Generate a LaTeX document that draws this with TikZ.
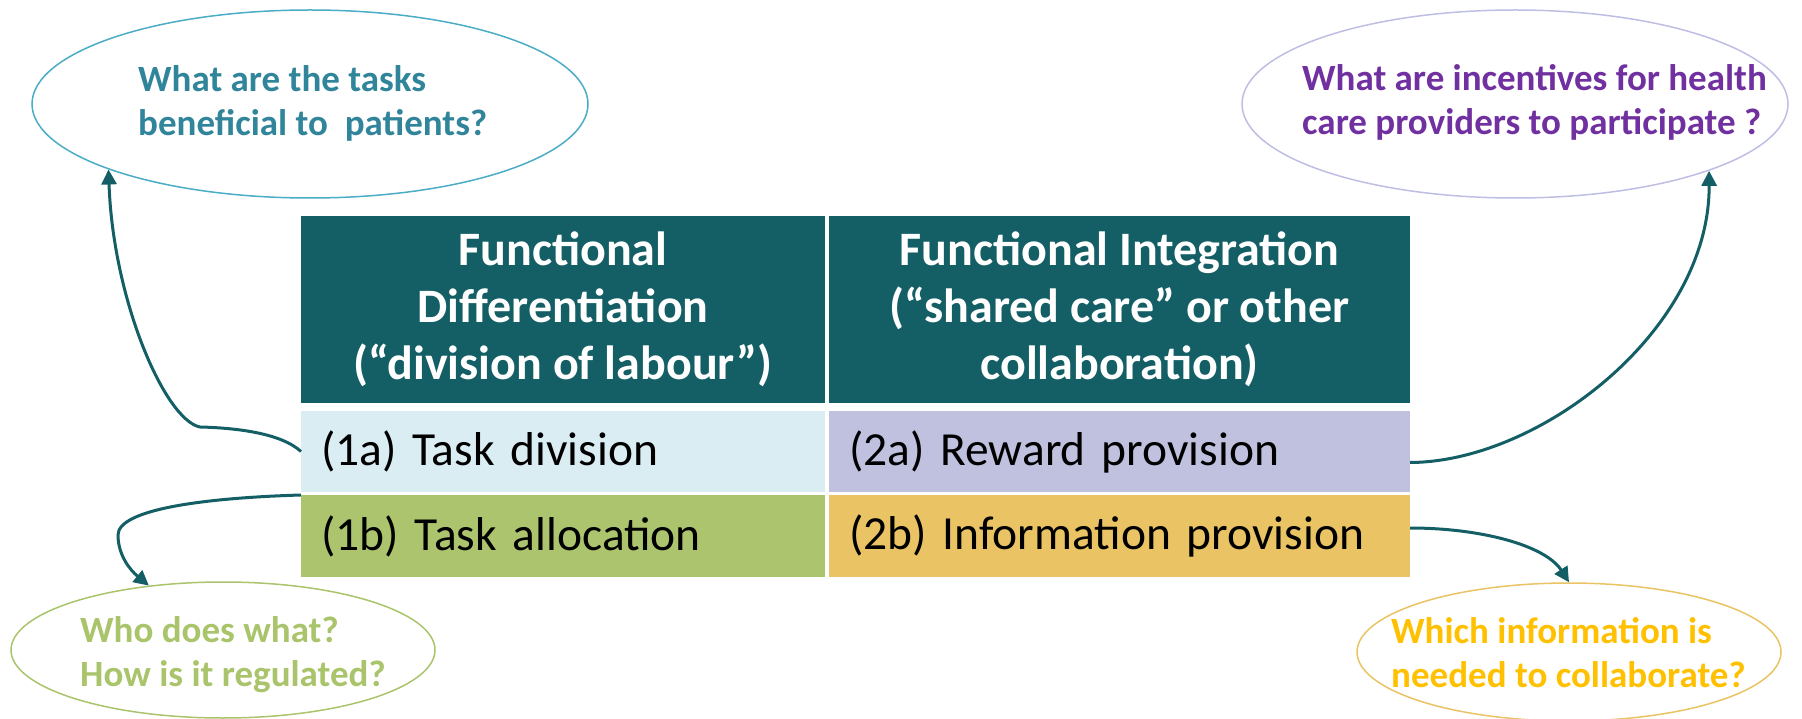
\documentclass[tikz,border=0pt]{standalone}
\usepackage{fontspec}
\setmainfont{Carlito}
\usetikzlibrary{shapes.geometric,arrows.meta,calc}

\definecolor{hdrteal}{RGB}{20,95,102}
\definecolor{cellA}{RGB}{218,237,243}
\definecolor{cellB}{RGB}{172,196,110}
\definecolor{cellC}{RGB}{191,193,223}
\definecolor{cellD}{RGB}{233,195,100}
\definecolor{qoneline}{RGB}{75,172,198}
\definecolor{qonetext}{RGB}{49,133,155}
\definecolor{qtwoline}{RGB}{190,190,228}
\definecolor{qtwotext}{RGB}{112,48,160}
\definecolor{qthreeline}{RGB}{169,196,106}
\definecolor{qthreetext}{RGB}{169,196,106}
\definecolor{qfourline}{RGB}{233,195,100}
\definecolor{qfourtext}{RGB}{255,192,0}

\begin{document}
\begin{tikzpicture}[x=1pt,y=-1pt,
  cell/.style={rectangle, inner sep=0pt, outer sep=0pt, anchor=north west},
  hdr/.style={cell, fill=hdrteal, text=white, align=center,
    font=\fontsize{48}{57}\selectfont\bfseries},
  rowcell/.style={cell, inner xsep=20pt, align=left, text=black,
    font=\fontsize{47.5}{57}\selectfont},
  ell/.style={ellipse, draw, line width=1.5pt, inner sep=0pt},
  qtext/.style={inner sep=0pt, align=left, anchor=west,
    font=\fontsize{37}{44}\selectfont\bfseries},
  conn/.style={draw=hdrteal, line width=3pt,
    -{Triangle[length=15pt,width=15pt]}}
]
\useasboundingbox (0,0) rectangle (1802,719);

% table: header row
\node[hdr, minimum width=524pt, minimum height=187pt] (h1) at (301,216)
  {Functional\\Differentiation\\(“division of labour”)};
\node[hdr, minimum width=581pt, minimum height=187pt] (h2) at (829,216)
  {Functional Integration\\(“shared care” or other\\collaboration)};

% table: body cells
\node[rowcell, fill=cellA, text width=484pt, minimum height=81pt] (c1a) at (301,411) {(1a) Task division};
\node[rowcell, fill=cellC, text width=541pt, minimum height=81pt] (c2a) at (829,411) {(2a) Reward provision};
\node[rowcell, fill=cellB, text width=484pt, minimum height=82pt] (c1b) at (301,495) {(1b) Task allocation};
\node[rowcell, fill=cellD, text width=541pt, minimum height=82pt] (c2b) at (829,495) {(2b) Information provision};

% question ellipses
\node[ell, draw=qoneline, minimum width=556pt, minimum height=188pt] (q1) at (310,104) {};
\node[qtext, text=qonetext] (q1t) at (138,103) {What are the tasks\\beneficial to\ \ patients?};

\node[ell, draw=qtwoline, minimum width=546pt, minimum height=188pt] (q2) at (1515,104) {};
\node[qtext, text=qtwotext] (q2t) at (1302,102) {What are incentives for health\\care providers to participate ?};

\node[ell, draw=qthreeline, minimum width=424pt, minimum height=136pt] (q3) at (223,650) {};
\node[qtext, text=qthreetext] (q3t) at (80,655) {Who does what?\\How is it regulated?};

\node[ell, draw=qfourline, minimum width=424pt, minimum height=138pt] (q4) at (1569,652) {};
\node[qtext, text=qfourtext] (q4t) at (1391,653) {Which information is\\needed to collaborate?};

% connectors
\draw[conn] (c1a.west) .. controls (282,434) and (240,428) .. (200,427)
  .. controls (165,420) and (113,300) .. (q1.198.5);
\draw[conn] (c1b.north west) .. controls (200,498) and (118,510) .. (118,535)
  .. controls (118,555) and (130,570) .. (q3.139);
\draw[conn] ($(c2a.east)+(0,11)$) .. controls (1540,462) and (1710,330) .. (q2.341);
\draw[conn] ($(c2b.east)+(0,-8)$) .. controls (1480,528) and (1545,545) .. (q4.north);
\end{tikzpicture}
\end{document}
